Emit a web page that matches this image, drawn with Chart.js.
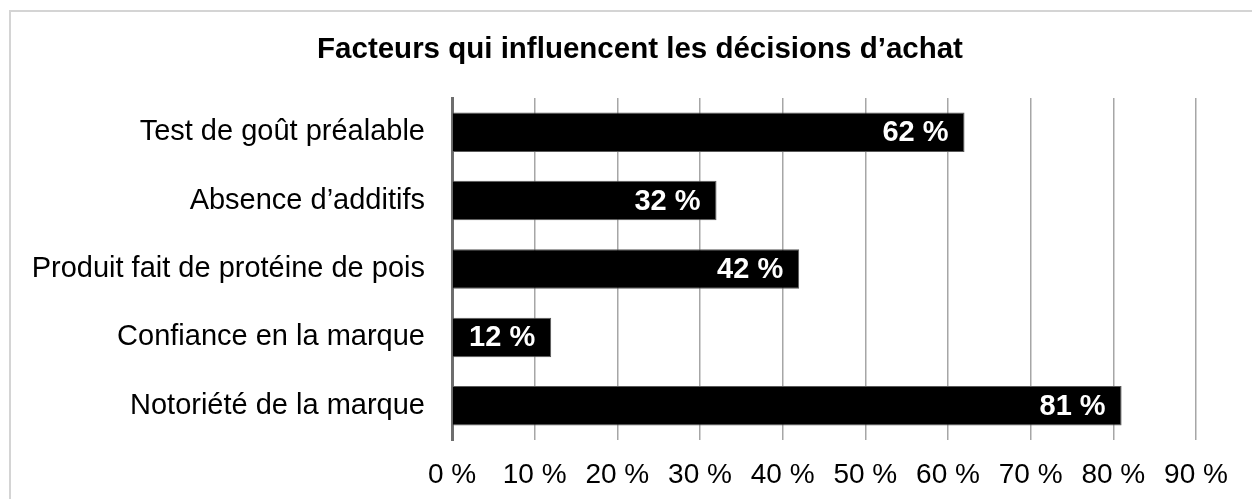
<!DOCTYPE html>
<html><head><meta charset="utf-8">
<script src="https://cdn.jsdelivr.net/npm/chart.js@4.4.0/dist/chart.umd.min.js"></script>
<style>
html,body{margin:0;padding:0;background:#fff;}
#wrap{position:relative;width:1252px;height:499px;overflow:hidden;}
#frame{position:absolute;left:9px;top:10px;width:1260px;height:500px;border:2px solid #d4d4d4;box-sizing:border-box;pointer-events:none;}
canvas{position:absolute;left:0;top:0;}
</style></head><body>
<div id="wrap"><canvas id="c" width="1252" height="499"></canvas><div id="frame"></div></div>
<script>
const chartTitle = "Facteurs qui influencent les décisions d’achat";
const categories = ["Test de goût préalable","Absence d’additifs","Produit fait de protéine de pois","Confiance en la marque","Notoriété de la marque"];
const values = [62, 32, 42, 12, 81];
const tickValues = [0,10,20,30,40,50,60,70,80,90];
const FONT = '"Liberation Sans", Arial, sans-serif';

const labelPlugin = {
  id:'endLabels',
  afterDatasetsDraw(chart){
    const ctx = chart.ctx;
    const meta = chart.getDatasetMeta(0);
    ctx.save();
    ctx.fillStyle = '#fff';
    ctx.font = 'bold 29px ' + FONT;
    ctx.textAlign = 'right';
    ctx.textBaseline = 'middle';
    meta.data.forEach((bar,i)=>{
      ctx.fillText(values[i] + ' %', bar.x - 16, bar.y + 1);
    });
    ctx.restore();
  }
};
const titlePlugin = {
  id:'centerTitle',
  afterDraw(chart){
    const ctx = chart.ctx;
    ctx.save();
    ctx.fillStyle = '#000';
    ctx.font = 'bold 29.5px ' + FONT;
    ctx.textAlign = 'center';
    ctx.textBaseline = 'middle';
    ctx.fillText(chartTitle, 640, 50);
    ctx.restore();
  }
};

new Chart(document.getElementById('c'), {
  type:'bar',
  data:{ labels:categories, datasets:[{ data:values, backgroundColor:'#000', borderColor:'#595959', borderWidth:1, borderSkipped:'start', categoryPercentage:1, barPercentage:0.577 }]},
  options:{
    indexAxis:'y', responsive:false, animation:false,
    layout:{padding:{left:0,right:56,top:98,bottom:0}},
    plugins:{ legend:{display:false}, tooltip:{enabled:false}, title:{display:false} },
    scales:{
      x:{ min:0, max:90, afterBuildTicks(s){ s.ticks = tickValues.map(v=>({value:v})); },
          grid:{color:'#a6a6a6', lineWidth:1.5, drawTicks:false},
          border:{display:false},
          ticks:{ padding:18, color:'#000', font:{family:FONT, size:28}, callback:v=>v+' %' },
          afterFit(s){ s.height = 59; } },
      y:{ grid:{display:false, drawTicks:false}, border:{display:true, color:'#6e6e6e', width:3},
          ticks:{ padding:27, color:'#000', font:{family:FONT, size:29} },
          afterFit(s){ s.width = 452; } }
    }
  },
  plugins:[labelPlugin, titlePlugin]
});
</script></body></html>
